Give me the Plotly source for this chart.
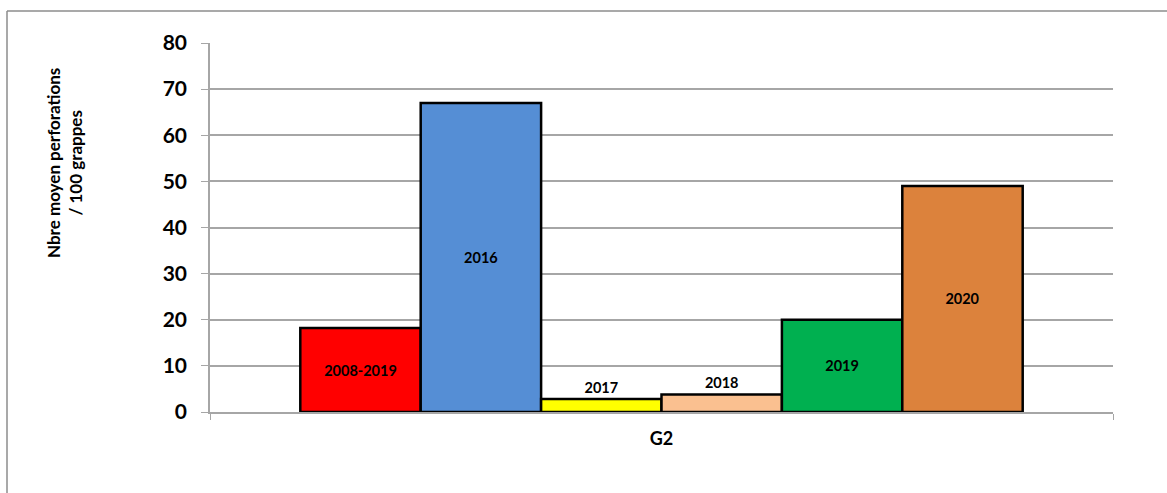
import plotly.graph_objects as go

categories = ["G2"]
series_names = ["2008-2019", "2016", "2017", "2018", "2019", "2020"]
series_values = [18.2, 67.0, 2.8, 3.8, 20.0, 49.0]
series_colors = ["#FF0000", "#558ED5", "#FFFF00", "#FAC090", "#00B050", "#DC823C"]
label_positions = ["inside", "inside", "outside", "outside", "inside", "inside"]
y_ticks = [0, 10, 20, 30, 40, 50, 60, 70, 80]

FONT = "Lato"

fig = go.Figure()
for name, val, col, pos in zip(series_names, series_values, series_colors, label_positions):
    fig.add_trace(go.Bar(
        x=categories, y=[val], name=name,
        marker=dict(color=col, line=dict(color="black", width=2.5)),
        text=[name], textposition=pos, insidetextanchor="middle",
        textangle=0, cliponaxis=False,
        textfont=dict(family=FONT, size=14.5, color="black", weight="bold"),
    ))

fig.update_layout(
    width=1167, height=493,
    margin=dict(l=210, r=54, t=43, b=81),
    barmode="group", bargap=0.2, bargroupgap=0,
    showlegend=False,
    plot_bgcolor="white", paper_bgcolor="white",
    uniformtext=dict(mode=False),
    font=dict(family=FONT, color="black"),
)
fig.update_xaxes(
    showgrid=False, showline=True, linecolor="#A6A6A6", linewidth=1.5,
    ticks="outside", tickson="boundaries", ticklen=6, tickcolor="#A6A6A6",
    ticklabelstandoff=10,
    tickfont=dict(family=FONT, size=18, color="black", weight="bold"),
)
fig.update_yaxes(
    range=[0, 80], tickvals=y_ticks,
    showgrid=True, gridcolor="#A6A6A6", gridwidth=1.5,
    showline=True, linecolor="#A6A6A6", linewidth=1.5,
    ticks="outside", ticklen=7, tickcolor="#A6A6A6",
    ticklabelstandoff=10,
    tickfont=dict(family=FONT, size=21, color="black", weight="bold"),
    zeroline=False,
)
fig.add_annotation(
    text="Nbre moyen perforations<br>/ 100 grappes",
    xref="paper", yref="paper", x=(64 - 210) / 903, y=(412 - 163) / 369,
    xanchor="center", yanchor="middle",
    showarrow=False, textangle=-90,
    font=dict(family=FONT, size=17, color="black", weight="bold"),
)
# outer chart-area border (top and left edges visible)
fig.add_shape(type="line", xref="paper", yref="paper",
              x0=(7 - 210) / 903, x1=(1167 - 210) / 903,
              y0=(412 - 11) / 369, y1=(412 - 11) / 369,
              line=dict(color="#8C8C8C", width=1.5))
fig.add_shape(type="line", xref="paper", yref="paper",
              x0=(7 - 210) / 903, x1=(7 - 210) / 903,
              y0=(412 - 11) / 369, y1=(412 - 500) / 369,
              line=dict(color="#8C8C8C", width=1.5))

fig.write_html("out.html", config={"displayModeBar": False},
               post_script="document.body.style.margin='0';")
